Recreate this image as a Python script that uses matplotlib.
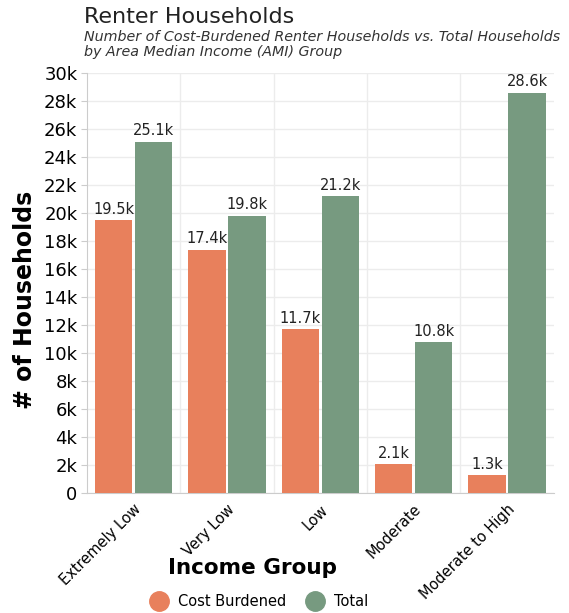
import matplotlib.pyplot as plt
import numpy as np
from matplotlib.lines import Line2D

groups = ["Extremely Low", "Very Low", "Low", "Moderate", "Moderate to High"]
cost_burdened = [19500, 17400, 11700, 2100, 1300]
total = [25100, 19800, 21200, 10800, 28600]
yticks = list(range(0, 30001, 2000))
ytick_labels = ["0"] + [f"{v // 1000}k" for v in yticks[1:]]

ORANGE = "#e8805c"
GREEN = "#779a80"

plt.rcParams["font.family"] = "DejaVu Sans"

fig = plt.figure(figsize=(5.69, 6.13), dpi=100)
ax = fig.add_axes([0.153, 0.195, 0.82, 0.686])

x = np.arange(len(groups))
w = 0.40
ax.bar(x - w / 2 - 0.015, cost_burdened, w, color=ORANGE, zorder=3)
ax.bar(x + w / 2 + 0.015, total, w, color=GREEN, zorder=3)

for xi, v in zip(x, cost_burdened):
    ax.text(xi - w / 2 - 0.015, v + 250, f"{v / 1000:.1f}k", ha="center", va="bottom", fontsize=10.5, color="#222222")
for xi, v in zip(x, total):
    ax.text(xi + w / 2 + 0.015, v + 250, f"{v / 1000:.1f}k", ha="center", va="bottom", fontsize=10.5, color="#222222")

ax.set_xlim(-0.5, len(groups) - 0.5)
ax.set_ylim(0, 30000)
ax.set_yticks(yticks)
ax.set_yticklabels(ytick_labels, fontsize=13)
ax.set_xticks(x)
ax.set_xticklabels(groups, rotation=45, ha="right", rotation_mode="anchor", fontsize=10.5)

# light grid: horizontal at ticks, vertical between the groups
ax.set_axisbelow(True)
ax.yaxis.grid(True, color="#ececec", lw=1)
for b in np.arange(0.5, len(groups) - 0.5, 1):
    ax.axvline(b, color="#ececec", lw=1, zorder=0)

for s in ["top", "right"]:
    ax.spines[s].set_visible(False)
for s in ["left", "bottom"]:
    ax.spines[s].set_color("#cccccc")
ax.tick_params(axis="both", color="#cccccc", length=4, pad=3)
ax.tick_params(axis="x", length=0, pad=6)

fig.text(0.044, 0.51, "# of Households", fontsize=17, fontweight="bold", rotation=90, ha="center", va="center")
fig.text(0.443, 0.073, "Income Group", fontsize=15.5, fontweight="bold", ha="center", va="center")

fig.text(0.148, 0.972, "Renter Households", fontsize=16, color="#222222", ha="left", va="center")
fig.text(0.148, 0.951, "Number of Cost-Burdened Renter Households vs. Total Households\nby Area Median Income (AMI) Group",
         fontsize=10.3, style="italic", color="#333333", ha="left", va="top", linespacing=1.1)

handles = [Line2D([], [], marker="o", ls="", markersize=14, color=ORANGE),
           Line2D([], [], marker="o", ls="", markersize=14, color=GREEN)]
fig.legend(handles, ["Cost Burdened", "Total"], loc="center", bbox_to_anchor=(0.45, 0.018),
           ncol=2, frameon=False, fontsize=10.5, handletextpad=0.3, columnspacing=1.0)

fig.savefig("out.png", dpi=100)
